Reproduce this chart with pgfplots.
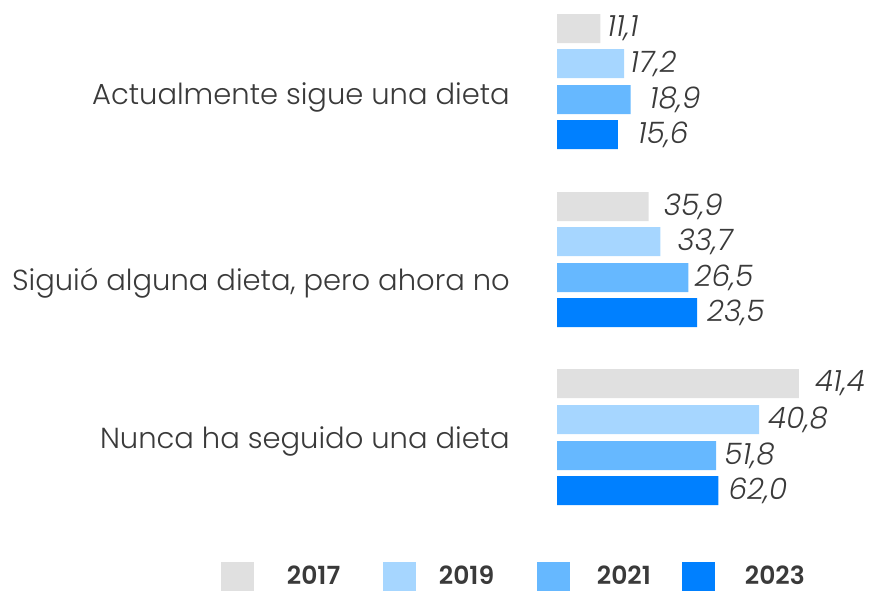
\documentclass[border=0pt]{standalone}
\usepackage{pgfplots}
\pgfplotsset{compat=1.18}
\usepackage{fontspec}
\setmainfont{Poppins Light}[ItalicFont={Poppins Light Italic}, BoldFont={Poppins SemiBold}]
\definecolor{c17}{HTML}{E0E0E0}
\definecolor{c19}{HTML}{A6D6FF}
\definecolor{c21}{HTML}{66B8FF}
\definecolor{c23}{HTML}{0080FF}
\definecolor{txt}{HTML}{3A3A3A}
\begin{document}
\begin{tikzpicture}
\begin{axis}[
  scale only axis, width=869pt, height=592pt,
  xmin=-142.82, xmax=80.0,
  ymin=0, ymax=592, y dir=reverse,
  axis line style={draw=none}, major tick length=0pt,
  xtick=\empty,
  ytick={104,290,448},
  yticklabels={Actualmente sigue una dieta, {Siguió alguna dieta, pero ahora no}, Nunca ha seguido una dieta},
  yticklabel style={anchor=base east, xshift=510pt, inner sep=0pt, font=\fontsize{29}{29}\selectfont, text=txt},
  xbar, bar width=29pt, bar shift=0pt,
  nodes near coords, point meta=explicit symbolic,
  every node near coord/.append style={anchor=west, inner sep=0pt, font=\fontsize{29.5}{29.5}\selectfont\itshape, text=txt},
  legend style={at={(axis description cs:0.2543,0.002)}, anchor=south west, draw=none, inner sep=0pt, outer sep=0pt,
    font=\fontsize{25}{25}\selectfont\bfseries, text=txt,
    /tikz/column 1/.style={column sep=31pt},
    /tikz/column 2/.style={column sep=39pt},
    /tikz/column 3/.style={column sep=21pt},
    /tikz/column 4/.style={column sep=41pt},
    /tikz/column 5/.style={column sep=25pt},
    /tikz/column 6/.style={column sep=28pt},
    /tikz/column 7/.style={column sep=28pt}},
  legend columns=4, legend cell align=left,
  legend image code/.code={\path[#1, draw=none] (0pt,-14.5pt) rectangle (33pt,14.5pt);},
]
\addplot[fill=c17, draw=none] coordinates {(11.1,28.5) [\hspace*{7pt}11,1] (23.5,206.5) [\hspace*{15pt}35,9] (62.0,383.5) [\hspace*{16pt}41,4]};
\addlegendentry{\makebox[55pt][l]{2017}}
\addplot[fill=c19, draw=none] coordinates {(17.2,63.5) [\hspace*{6pt}17,2] (26.5,241.5) [\hspace*{17pt}33,7] (51.8,419.5) [\hspace*{9pt}40,8]};
\addlegendentry{\makebox[55pt][l]{2019}}
\addplot[fill=c21, draw=none] coordinates {(18.9,99.5) [\hspace*{19pt}18,9] (33.7,277.5) [\hspace*{6pt}26,5] (40.8,455.5) [\hspace*{8pt}51,8]};
\addlegendentry{\makebox[55pt][l]{2021}}
\addplot[fill=c23, draw=none] coordinates {(15.6,134.5) [\hspace*{20pt}15,6] (35.9,312.5) [\hspace*{10pt}23,5] (41.4,490.5) [\hspace*{10pt}62,0]};
\addlegendentry{\makebox[55pt][l]{2023}}
\end{axis}
\pgfresetboundingbox
\path[use as bounding box] (current axis.south west) rectangle (current axis.north east);
\end{tikzpicture}
\end{document}
